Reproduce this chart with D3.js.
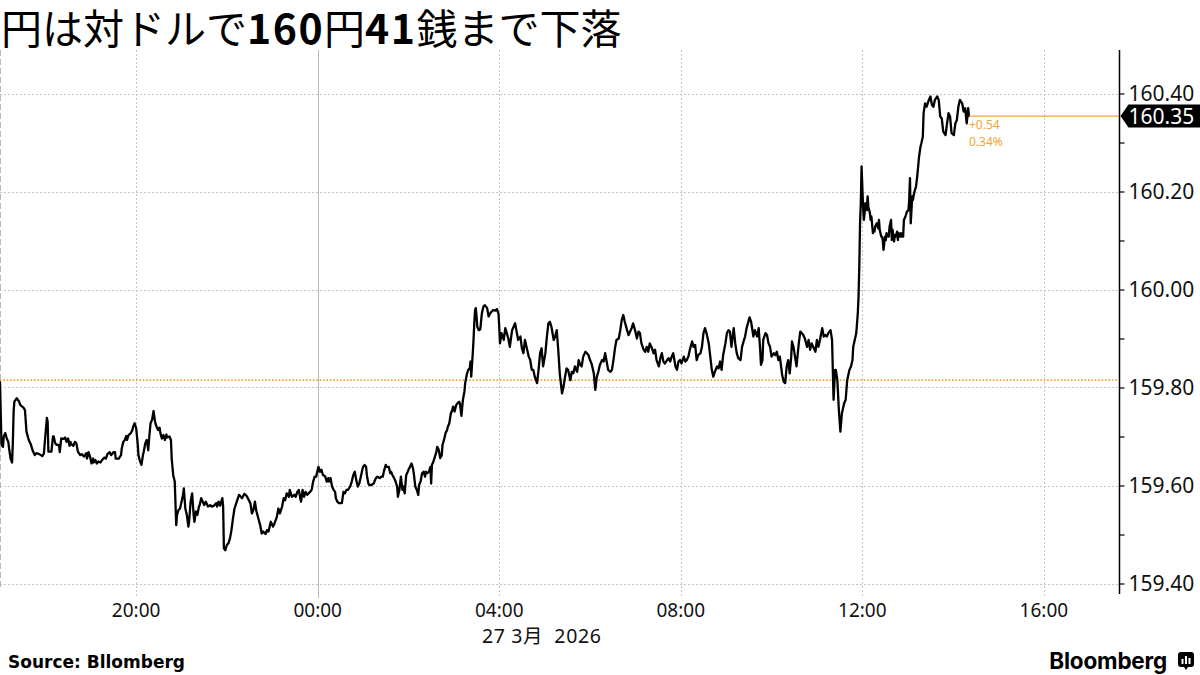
<!DOCTYPE html>
<html><head><meta charset="utf-8">
<script src="https://cdn.jsdelivr.net/npm/d3@7"></script>
<style>body{margin:0;background:#fff}svg{display:block}</style>
</head><body><svg id="c" width="1200" height="675"></svg>
<script>
// ---- data ----
const startTime = "2026-03-26T17:00:00Z";
const endTime = "2026-03-27T17:40:00Z";
const minutesAfterStart = [
0,2,4,5,7,9,11,12,14,16,17,18,19,22,25,27,31,33,35,38,41,43,46,48,52,56,58,60,62,63,64,66,68,70,71,73,75,78,79,81,84,86,88,90,92,93,95,97,99,101,103,106,108,111,114,115,117,119,121,123,124,126,128,130,133,135,138,140,142,145,147,150,152,153,157,160,161,163,165,167,168,170,173,175,176,178,180,182,183,185,187,189,190,192,194,196,197,199,201,203,205,206,209,211,212,214,216,218,220,221,224,226,227,229,231,233,234,236,238,240,242,243,245,247,249,250,252,254,256,257,259,261,263,264,266,268,270,272,273,275,278,280,283,286,287,289,291,293,294,295,296,298,300,302,304,306,308,310,313,316,
320,323,326,329,331,333,335,337,339,340,342,344,346,348,351,353,355,358,361,363,366,368,370,373,375,377,379,382,383,386,389,391,393,395,397,398,400,402,404,406,408,410,412,414,416,418,420,421,423,425,427,428,430,432,434,435,437,439,441,443,444,446,448,450,452,454,456,458,460,463,465,467,469,471,473,475,477,479,480,482,484,485,487,488,491,494,495,497,499,502,504,506,508,510,511,514,516,517,519,521,523,525,526,528,530,532,533,535,537,539,540,542,544,546,547,549,551,553,554,556,558,560,562,563,565,567,569,570,571,573,575,577,578,580,582,584,585,587,589,591,592,594,596,598,599,601,603,605,607,608,610,612,614,615,617,619,621,622,623,625,626,627,628,629,630,631,633,635,
637,639,641,644,646,648,650,652,655,657,659,660,661,663,666,668,670,672,674,677,679,681,683,685,688,690,692,694,696,699,701,703,705,707,710,712,714,716,718,721,723,725,727,729,732,734,736,738,740,743,745,747,749,751,754,756,758,760,763,765,767,769,771,774,776,778,780,782,785,787,789,791,793,796,798,800,802,804,807,809,811,813,815,818,820,822,824,826,829,831,833,835,837,840,842,844,846,848,851,853,855,857,859,862,864,866,868,871,873,875,877,879,882,884,886,888,890,893,895,897,899,901,904,906,908,910,912,915,917,919,921,923,926,928,930,932,934,937,939,941,943,945,948,950,952,954,956,959,961,963,965,
967,970,972,974,976,979,981,983,985,987,990,991,993,994,996,998,1001,1003,1005,1006,1008,1009,1012,1014,1016,1018,1020,1023,1025,1027,1029,1031,1034,1036,1038,1040,1042,1044,1046,1047,1049,1051,1053,1056,1058,1060,1062,1064,1067,1069,1071,1073,1075,1078,1080,1082,1084,1087,1089,1091,1093,1095,1098,1100,1101,1102,1104,1105,1107,1109,1111,1113,1114,1116,1118,1120,1121,1123,1125,1127,1128,1130,1132,1134,1135,1136,1137,1138,1139,1140,1141,1142,1143,1144,1146,1147,1148,1150,1151,1152,1154,1155,1156,1157,1159,1161,1162,1163,1165,1166,1167,1168,1170,1171,1172,1174,1175,1176,1178,1179,1180,1182,1183,1184,1186,1187,1188,1190,1191,1192,1194,1195,1197,1199,1201,1202,1203,1204,1206,1207,1208,1209,1211,1213,1215,1217,1218,1220,1221,1222,1223,1225,1228,1230,1232,1234,1236,1239,1241,1243,1245,1247,1250,1252,1254,1256,1258,1261,1263,1265,1267,1269,1272,1274,1276,1278,1280,1281
];
const usdJpy = [
159.811,159.683,159.679,159.700,159.707,159.696,159.689,159.676,159.655,159.647,159.689,159.751,159.771,159.778,159.772,159.764,159.759,159.754,159.710,159.693,159.683,159.672,159.662,159.666,159.664,159.660,159.665,159.703,159.738,159.730,159.669,159.669,159.669,159.700,159.700,159.686,159.683,159.683,159.668,159.696,159.695,159.698,159.689,159.696,159.681,159.689,159.683,159.681,159.689,159.686,159.669,159.662,159.664,159.659,159.666,159.655,159.668,159.659,159.645,159.655,159.647,159.652,159.645,159.649,159.647,159.652,159.657,159.655,159.664,159.668,159.662,159.668,159.668,159.655,159.655,159.662,159.676,159.689,159.693,159.701,159.693,159.703,159.707,159.713,159.720,159.727,159.717,159.686,159.662,159.650,159.642,159.662,159.669,159.686,159.693,159.672,159.693,159.727,159.734,159.752,159.730,159.724,159.713,159.718,159.707,159.696,159.703,159.693,159.704,159.698,159.700,159.693,159.655,159.621,159.608,159.519,159.540,159.550,159.553,159.567,159.581,159.594,159.553,159.540,159.516,159.526,159.567,159.584,159.540,159.526,159.547,159.540,159.557,159.560,159.574,159.567,159.560,159.567,159.564,159.557,159.560,159.557,159.559,159.564,159.557,159.567,159.559,159.570,159.574,159.557,159.472,159.468,159.479,159.482,159.492,159.509,159.533,159.553,159.567,159.581,
159.574,159.583,159.579,159.570,159.564,159.543,159.550,159.567,159.547,159.542,159.530,159.519,159.502,159.506,159.501,159.509,159.506,159.526,159.516,159.523,159.536,159.553,159.543,159.557,159.574,159.570,159.584,159.577,159.591,159.577,159.581,159.577,159.587,159.591,159.574,159.567,159.591,159.577,159.587,159.581,159.584,159.587,159.591,159.608,159.618,159.618,159.632,159.638,159.628,159.632,159.621,159.621,159.618,159.608,159.615,159.608,159.615,159.598,159.591,159.587,159.574,159.567,159.564,159.564,159.564,159.587,159.584,159.591,159.591,159.598,159.608,159.621,159.628,159.611,159.598,159.604,159.618,159.632,159.638,159.642,159.638,159.621,159.604,159.601,159.601,159.604,159.608,159.615,159.618,159.615,159.618,159.618,159.632,159.642,159.638,159.638,159.625,159.628,159.621,159.615,159.608,159.598,159.577,159.591,159.618,159.591,159.598,159.584,159.621,159.628,159.632,159.638,159.645,159.635,159.625,159.598,159.591,159.581,159.601,159.608,159.625,159.628,159.618,159.628,159.625,159.628,159.638,159.604,159.642,159.649,159.659,159.669,159.679,159.673,159.656,159.662,159.683,159.693,159.707,159.713,159.720,159.727,159.747,159.754,159.761,159.751,159.764,159.768,159.771,159.768,159.742,159.775,159.792,159.809,159.826,159.836,159.839,159.853,159.822,159.870,159.897,159.931,159.958,159.962,159.945,159.924,159.917,159.919,
159.951,159.965,159.968,159.962,159.945,159.951,159.955,159.958,159.957,159.960,159.951,159.924,159.890,159.911,159.897,159.921,159.911,159.900,159.883,159.917,159.924,159.931,159.914,159.897,159.904,159.880,159.870,159.897,159.883,159.863,159.856,159.836,159.836,159.822,159.809,159.836,159.870,159.880,159.843,159.870,159.904,159.931,159.934,159.924,159.897,159.904,159.917,159.877,159.829,159.788,159.802,159.822,159.839,159.836,159.815,159.832,159.829,159.843,159.832,159.856,159.846,159.843,159.863,159.873,159.870,159.866,159.856,159.849,159.829,159.795,159.822,159.832,159.846,159.856,159.853,159.870,159.853,159.836,159.832,159.836,159.856,159.880,159.897,159.900,159.917,159.938,159.948,159.934,159.917,159.907,159.914,159.921,159.931,159.914,159.900,159.914,159.911,159.890,159.877,159.873,159.883,159.873,159.890,159.880,159.870,159.877,159.856,159.843,159.860,159.870,159.853,159.849,159.856,159.860,159.853,159.863,159.870,159.843,159.836,159.853,159.856,159.849,159.863,159.853,159.856,159.863,159.877,159.894,159.883,159.887,159.856,159.866,159.870,159.883,159.911,159.921,159.911,159.890,159.863,159.836,159.822,159.832,159.843,159.839,159.853,159.836,159.866,159.890,159.911,159.917,159.914,
159.883,159.921,159.890,159.870,159.860,159.856,159.883,159.894,159.904,159.921,159.938,159.943,159.934,159.924,159.904,159.917,159.904,159.921,159.877,159.846,159.856,159.897,159.911,159.907,159.890,159.883,159.863,159.870,159.866,159.873,159.856,159.863,159.826,159.812,159.809,159.843,159.856,159.829,159.863,159.894,159.883,159.863,159.843,159.890,159.914,159.911,159.907,159.900,159.883,159.897,159.877,159.890,159.883,159.873,159.897,159.883,159.897,159.921,159.904,159.907,159.904,159.911,159.917,159.897,159.836,159.775,159.836,159.836,159.815,159.754,159.710,159.747,159.754,159.768,159.775,159.815,159.822,159.836,159.843,159.856,159.883,159.897,159.911,159.951,159.985,160.047,160.135,160.176,160.251,160.210,160.169,160.142,160.156,160.176,160.162,160.190,160.169,160.156,160.142,160.149,160.115,160.122,160.118,160.128,160.135,160.125,160.142,160.122,160.108,160.108,160.101,160.081,160.108,160.101,160.115,160.108,160.108,160.128,160.142,160.101,160.122,160.098,160.111,160.108,160.118,160.101,160.115,160.108,160.115,160.108,160.108,160.142,160.149,160.159,160.162,160.183,160.227,160.135,160.190,160.183,160.193,160.200,160.210,160.237,160.271,160.292,160.298,160.312,160.360,160.370,160.380,160.373,160.387,160.394,160.377,160.373,160.387,160.394,160.387,160.353,160.349,160.322,160.315,160.339,160.360,160.353,160.319,160.315,160.339,160.346,160.373,160.387,160.380,160.363,160.370,160.339,160.370,160.354
];
const previousClose = 159.815;
const changeText = "+0.54";
const changePctText = "0.34%";
const yMajorTicks = [159.40, 159.60, 159.80, 160.00, 160.20, 160.40];
const yMinorTicks = [159.50, 159.70, 159.90, 160.10, 160.30];
const dateLabel = "27 3月  2026";
const titleParts = [
  {t: "円は対ドルで", b: false},
  {t: "160", b: true},
  {t: "円", b: false},
  {t: "41", b: true},
  {t: "銭まで下落", b: false}
];
const sourceText = "Source: Bllomberg";

// ---- setup ----
const svg = d3.select("#c");
const plot = {left: 0, right: 1119.5, top: 50, bottom: 583.5};
const ORANGE = "#f0a531";
const start = new Date(startTime);
const data = minutesAfterStart.map((m, i) => ({date: new Date(start.getTime() + m * 60000), v: usdJpy[i]}));

const x = d3.scaleTime().domain([start, new Date(endTime)]).range([plot.left, plot.right]);
const y = d3.scaleLinear().domain([159.40, 160.40]).range([583.5, 93.5]);

// ---- title ----
const title = svg.append("text").attr("x", 1).attr("y", 44)
  .attr("font-family", "'Noto Sans CJK JP', 'Noto Sans', sans-serif")
  .attr("font-size", 41).attr("fill", "#000");
titleParts.forEach(p => title.append("tspan").attr("font-weight", p.b ? 700 : 400)
  .attr("letter-spacing", p.b ? "1.5" : "0").text(p.t));

// ---- grid ----
const g = svg.append("g");
g.selectAll(".hg").data(yMajorTicks).join("line")
  .attr("x1", plot.left).attr("x2", plot.right)
  .attr("y1", d => Math.round(y(d)) + 0.5).attr("y2", d => Math.round(y(d)) + 0.5)
  .attr("stroke", "#c4c4c4").attr("stroke-width", 1).attr("stroke-dasharray", "2,2");

const xTicks = d3.utcHour.every(4).range(start, new Date(endTime));
g.selectAll(".vg").data(xTicks).join("line")
  .attr("x1", d => Math.round(x(d)) + 0.5).attr("x2", d => Math.round(x(d)) + 0.5)
  .attr("y1", plot.top).attr("y2", 598)
  .attr("stroke", d => d.getUTCHours() === 0 ? "#b8b8b8" : "#c4c4c4")
  .attr("stroke-width", 1)
  .attr("stroke-dasharray", d => d.getUTCHours() === 0 ? null : "2,2");
g.append("line").attr("x1", 0.5).attr("x2", 0.5).attr("y1", plot.top).attr("y2", 590)
  .attr("stroke", "#b8b8b8").attr("stroke-dasharray", "6,3");

// previous close
g.append("line").attr("x1", plot.left).attr("x2", plot.right)
  .attr("y1", y(previousClose)).attr("y2", y(previousClose))
  .attr("stroke", ORANGE).attr("stroke-width", 1.6).attr("stroke-dasharray", "1.6,1.8");

// ---- x axis labels ----
const fmt = d3.utcFormat("%H:%M");
svg.selectAll(".xl").data(xTicks).join("text")
  .attr("x", d => x(d)).attr("y", 617)
  .attr("text-anchor", "middle")
  .attr("font-family", "'Noto Sans', sans-serif").attr("font-size", 19).attr("fill", "#111")
  .text(d => fmt(d));
svg.append("text").attr("x", 482).attr("y", 643).style("white-space", "pre")
  .attr("font-family", "'Noto Sans', 'Noto Sans CJK JP', sans-serif").attr("font-size", 19.5)
  .attr("letter-spacing", "0.6").attr("fill", "#111")
  .text(dateLabel);

// ---- line ----
const line = d3.line().x(d => x(d.date)).y(d => y(d.v)).curve(d3.curveLinear);
svg.append("path").datum(data).attr("d", line)
  .attr("fill", "none").attr("stroke", "#000").attr("stroke-width", 2.3)
  .attr("stroke-linejoin", "round").attr("stroke-linecap", "round");

// ---- last value ----
const last = data[data.length - 1];
const ly = y(last.v);
svg.append("line").attr("x1", x(last.date)).attr("x2", plot.right)
  .attr("y1", ly).attr("y2", ly).attr("stroke", ORANGE).attr("stroke-width", 1.2);
svg.append("text").attr("x", x(last.date)).attr("y", ly + 13)
  .attr("font-family", "'Noto Sans', sans-serif").attr("font-size", 12).attr("fill", ORANGE)
  .text(changeText);
svg.append("text").attr("x", x(last.date)).attr("y", ly + 30)
  .attr("font-family", "'Noto Sans', sans-serif").attr("font-size", 12).attr("fill", ORANGE)
  .text(changePctText);

// ---- right axis ----
svg.append("line").attr("x1", plot.right).attr("x2", plot.right).attr("y1", plot.top).attr("y2", 594)
  .attr("stroke", "#000").attr("stroke-width", 1.5);
const yAxis = d3.axisRight(y).tickValues(yMajorTicks.concat(yMinorTicks)).tickSize(5).tickSizeOuter(0)
  .tickFormat(d => yMajorTicks.some(t => Math.abs(t - d) < 1e-9) ? d3.format(".2f")(d) : "");
const ya = svg.append("g").attr("transform", `translate(${plot.right},0)`).call(yAxis);
ya.select(".domain").remove();
ya.selectAll(".tick line").attr("stroke", "#000").attr("stroke-width", 1.2);
ya.selectAll(".tick text").attr("x", 9).attr("font-family", "'Noto Sans', sans-serif")
  .attr("font-size", 21).attr("fill", "#111");

// price tag
const tagH = 23;
svg.append("path")
  .attr("d", `M${plot.right + 1},${ly} L${plot.right + 9},${ly - tagH / 2} L1200,${ly - tagH / 2} L1200,${ly + tagH / 2} L${plot.right + 9},${ly + tagH / 2} Z`)
  .attr("fill", "#000");
svg.append("text").attr("x", plot.right + 9).attr("y", ly).attr("dy", "0.36em")
  .attr("font-family", "'Noto Sans', sans-serif").attr("font-size", 21).attr("fill", "#fff")
  .text(d3.format(".2f")(Math.floor(last.v * 100) / 100));

// ---- footer ----
svg.append("text").attr("x", 8).attr("y", 668)
  .attr("font-family", "'DejaVu Sans', sans-serif").attr("font-weight", 700).attr("font-size", 17).attr("fill", "#000")
  .text(sourceText);
svg.append("text").attr("x", 1167).attr("y", 669).attr("text-anchor", "end")
  .attr("font-family", "Inter, 'Noto Sans', sans-serif").attr("font-weight", 700).attr("font-size", 22.5)
  .attr("letter-spacing", "-0.2").attr("fill", "#000").text("Bloomberg");
const logo = svg.append("g").attr("transform", "translate(1178,652)");
logo.append("path").attr("d", "M3,0 H13 Q16,0 16,3 V12 Q16,15 13,15 H10 L8,18 L6,15 H3 Q0,15 0,12 V3 Q0,0 3,0 Z").attr("fill", "#000");
[[3.5, 7], [7, 4], [10.5, 6]].forEach(([bx, by]) =>
  logo.append("rect").attr("x", bx).attr("y", by).attr("width", 2).attr("height", 12 - by).attr("fill", "#fff"));
</script></body></html>
